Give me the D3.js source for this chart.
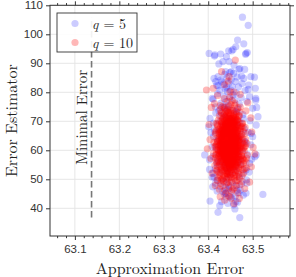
<!DOCTYPE html>
<html>
<head>
<meta charset="utf-8">
<script src="https://cdn.jsdelivr.net/npm/d3@7/dist/d3.min.js"></script>
<style>
  body { margin: 0; background: #fff; }
  svg { display: block; }
</style>
</head>
<body>
<script>
// tick labels / reference values
const xTicks = [63.1, 63.2, 63.3, 63.4, 63.5];
const yTicks = [40, 50, 60, 70, 80, 90, 100, 110];
const minimalError = 63.1375;
const labels = ["5", "10"];

// q = 5
const q5 = [
  [63.477,105.9],[63.490,103.1],[63.466,98.0],[63.480,96.7],[63.462,95.7],[63.488,93.7],[63.453,94.3],[63.446,94.3],
  [63.402,93.4],[63.415,92.9],[63.428,93.2],[63.441,92.3],[63.484,93.1],[63.433,90.6],[63.447,90.6],[63.424,89.8],
  [63.458,89.4],[63.469,87.9],[63.482,87.9],[63.452,87.1],[63.439,87.1],[63.496,85.4],[63.475,85.6],[63.422,85.4],
  [63.414,92.5],[63.456,94.8],[63.485,93.4],[63.471,88.2],[63.504,85.2],[63.417,83.7],[63.422,82.2],[63.441,81.7],
  [63.490,81.0],[63.493,78.5],[63.507,77.3],[63.411,77.6],[63.509,74.8],[63.512,71.6],[63.392,58.4],[63.505,57.8],
  [63.500,64.7],[63.416,48.6],[63.446,48.0],[63.404,42.5],[63.523,44.8],[63.426,40.9],[63.422,38.6],[63.471,36.8],
  [63.460,39.8],[63.485,45.2],[63.462,42.3],[63.444,41.7],[63.430,42.3],[63.449,44.0],
  [63.403,56.7],[63.411,52.1],[63.409,50.7],[63.508,58.4],[63.493,55.5],[63.486,49.8],[63.465,46.3],[63.439,45.2],
  [63.413,84.8],[63.428,84.2],[63.446,83.1],[63.461,83.7],[63.480,84.8],[63.491,82.5],[63.506,81.4],[63.507,77.9],
  [63.409,77.9],[63.416,75.0],[63.500,74.5],[63.404,71.0],[63.401,68.1],[63.508,68.7],
  [63.437,86.2],[63.452,84.4],[63.443,80.3],[63.456,79.1],[63.435,78.6],[63.468,81.9],[63.426,80.7],[63.449,86.8],
  [63.474,78.2],[63.431,83.6],[63.459,77.4],[63.440,76.8],[63.465,85.3],[63.421,79.5],[63.483,80.6],[63.448,78.0],
  [63.438,81.2],[63.454,82.0],[63.442,84.9],[63.463,79.8],[63.429,76.3],[63.470,76.0],[63.445,75.4],[63.457,86.5],
  [63.434,82.8],[63.476,83.0],[63.419,82.4],[63.451,80.8],[63.466,74.1],[63.436,74.7],[63.487,76.9],[63.424,73.6],
  [63.478,72.3],[63.494,70.2],[63.412,69.4],[63.497,65.8],
  [63.445,62.3],[63.432,57.6],[63.461,66.8],[63.418,60.9],[63.474,55.1],[63.450,70.7],[63.427,52.4],[63.466,59.3],
  [63.439,67.5],[63.483,62.8],[63.412,64.7],[63.455,48.9],[63.436,72.4],[63.471,69.6],[63.423,56.3],[63.448,54.0],
  [63.459,61.5],[63.430,64.9],[63.488,58.6],[63.441,50.1],[63.464,73.1],[63.416,53.7],[63.452,66.1],[63.478,51.9],
  [63.434,60.6],[63.447,58.1],[63.426,69.9],[63.469,63.4],[63.409,61.2],[63.457,56.7],[63.443,74.3],[63.481,67.4],
  [63.421,49.6],[63.462,52.8],[63.438,55.2],[63.453,63.9],[63.429,71.8],[63.473,57.4],[63.446,46.7],[63.414,67.0],
  [63.458,70.1],[63.437,62.0],[63.485,53.2],[63.425,59.0],[63.467,64.2],[63.450,51.5],[63.433,68.3],[63.476,60.3],
  [63.419,55.6],[63.444,65.8],[63.463,47.9],[63.431,54.8],[63.454,59.7],[63.490,66.2],[63.440,71.3],[63.470,50.6],
  [63.422,63.5],[63.449,56.4],[63.465,68.8],[63.435,49.2],[63.411,57.9],[63.479,71.0],[63.442,53.6],[63.456,65.0],
  [63.428,61.7],[63.472,46.3],[63.447,69.2],[63.417,72.9],[63.460,54.3],[63.436,58.9],[63.482,63.1],[63.451,60.8],
  [63.424,66.5],[63.468,56.0],[63.439,47.1],[63.458,73.7],[63.413,50.8],[63.475,65.5],[63.444,52.7],[63.430,74.8],
  [63.496,61.9],[63.406,66.1],[63.461,44.2],[63.433,45.8],[63.492,52.5],[63.410,47.4],[63.453,43.6],[63.475,48.4],
  [63.420,46.0],[63.487,48.7],[63.498,56.9],[63.403,53.4],[63.479,44.5],[63.440,43.9],[63.466,42.1],[63.427,47.6],
  [63.452,46.1],[63.469,45.3],[63.436,44.9],[63.457,41.2]
];

// q = 10
const q10 = [
  [63.438,74.2],[63.451,75.8],[63.446,72.9],[63.457,71.4],[63.432,70.6],[63.463,73.5],[63.444,76.9],[63.429,73.1],
  [63.455,70.2],[63.469,71.8],[63.441,71.0],[63.452,74.6],[63.436,77.8],[63.460,76.3],[63.448,70.9],[63.427,75.4],
  [63.472,74.9],[63.443,73.7],[63.458,72.2],[63.434,72.1],[63.466,70.5],[63.449,78.4],[63.439,70.1],[63.454,77.1],
  [63.425,71.9],
  [63.421,68.4],[63.447,67.2],[63.458,69.5],[63.433,65.8],[63.466,66.9],[63.452,65.3],[63.439,69.1],[63.474,68.2],
  [63.428,66.5],[63.445,69.8],[63.461,67.7],[63.418,69.3],[63.455,66.1],[63.437,67.9],[63.479,66.4],[63.450,68.6],
  [63.426,67.3],[63.468,69.9],[63.443,65.5],[63.459,68.9],[63.431,69.6],[63.463,65.7],[63.448,66.6],[63.435,68.3],
  [63.471,67.5],[63.416,66.2],[63.453,69.2],[63.441,66.8],[63.477,69.4],[63.424,65.9],[63.457,67.6],[63.446,68.1],
  [63.462,70.0],[63.430,67.0],[63.483,67.9],[63.440,65.2],[63.451,66.4],[63.467,68.5],[63.434,66.0],[63.456,65.6],
  [63.413,62.7],[63.445,63.1],[63.459,61.4],[63.432,64.6],[63.470,62.9],[63.451,60.5],[63.425,61.8],[63.438,63.9],
  [63.463,64.2],[63.482,61.2],[63.447,62.0],[63.419,64.0],[63.455,63.6],[63.441,60.8],[63.476,63.7],[63.429,62.3],
  [63.466,60.9],[63.450,64.8],[63.435,61.1],[63.458,62.6],[63.422,60.3],[63.487,62.4],[63.444,61.6],[63.472,64.9],
  [63.436,62.8],[63.453,61.9],[63.427,63.4],[63.461,63.0],[63.448,60.2],[63.417,61.5],[63.479,60.6],[63.442,64.4],
  [63.457,64.7],[63.431,60.7],[63.468,61.7],[63.449,63.5],[63.424,64.3],[63.464,62.1],[63.437,60.4],[63.454,60.1],
  [63.474,61.9],[63.433,63.2],[63.446,64.1],[63.460,60.6],[63.420,62.9],[63.484,63.8],[63.440,62.5],[63.452,62.8],
  [63.469,63.3],[63.428,60.9],
  [63.416,57.3],[63.443,58.6],[63.458,56.2],[63.431,59.4],[63.471,57.8],[63.450,55.4],[63.424,58.1],[63.439,56.7],
  [63.462,59.1],[63.481,56.5],[63.447,57.0],[63.419,55.9],[63.454,58.9],[63.436,55.2],[63.477,59.6],[63.428,57.6],
  [63.466,55.7],[63.449,59.8],[63.434,57.9],[63.459,57.5],[63.412,59.0],[63.488,58.3],[63.442,56.0],[63.473,55.1],
  [63.437,58.4],[63.455,56.6],[63.426,55.6],[63.463,57.2],[63.445,59.3],[63.421,56.9],[63.479,57.0],[63.440,55.8],
  [63.457,59.7],[63.430,56.3],[63.468,58.7],[63.451,57.7],[63.423,59.9],[63.465,56.0],[63.438,59.2],[63.453,55.0],
  [63.475,58.0],[63.432,58.8],[63.448,56.4],[63.461,55.3],[63.418,58.5],[63.485,55.9],[63.444,57.4],[63.456,58.1],
  [63.470,56.8],[63.427,59.5],
  [63.419,53.2],[63.446,54.1],[63.460,51.6],[63.433,52.8],[63.472,54.6],[63.452,50.7],[63.426,51.9],[63.440,53.7],
  [63.464,53.0],[63.480,52.2],[63.448,52.4],[63.415,54.8],[63.456,54.4],[63.437,50.9],[63.476,51.3],[63.430,54.2],
  [63.467,52.6],[63.450,53.5],[63.435,51.4],[63.459,50.3],[63.422,50.6],[63.486,53.9],[63.443,51.1],[63.470,50.2],
  [63.439,54.9],[63.454,52.1],[63.428,53.6],[63.462,54.9],[63.445,50.5],[63.424,52.4],[63.478,53.4],[63.441,52.0],
  [63.458,53.3],[63.431,50.1],[63.469,53.8],[63.449,51.5],[63.421,54.5],[63.465,51.0],[63.436,53.1],[63.453,54.7],
  [63.428,48.6],[63.447,47.3],[63.462,49.4],[63.437,46.2],[63.471,48.1],[63.452,45.8],[63.420,49.7],[63.443,49.0],
  [63.458,47.0],[63.432,47.7],[63.466,45.4],[63.449,48.9],[63.425,46.6],[63.477,49.2],[63.440,45.1],[63.455,46.5],
  [63.434,49.5],[63.463,47.8],[63.446,44.2],[63.416,47.9],[63.482,46.8],[63.451,43.5],
  [63.461,91.1],[63.430,87.1],[63.447,85.4],[63.396,80.8],[63.411,81.4],[63.437,82.6],[63.458,80.1],[63.421,78.9],
  [63.472,79.3],[63.445,83.9],[63.489,76.4],[63.407,74.8],[63.496,71.2],[63.402,68.9],[63.498,66.3],[63.404,63.7],
  [63.501,61.0],[63.406,57.2],[63.497,54.3],[63.409,52.1],[63.493,49.0],[63.437,42.8],[63.458,41.6],[63.427,44.0],
  [63.470,43.4],[63.505,58.8],[63.398,60.5],[63.485,73.6],[63.414,76.1],[63.449,80.2],
  [63.441,61.3],[63.452,63.8],[63.447,58.2],[63.436,66.4],[63.458,60.7],[63.444,69.1],[63.462,65.2],[63.431,62.6],
  [63.455,57.9],[63.449,67.3],[63.438,59.4],[63.467,62.0],[63.443,64.9],[63.428,68.2],[63.453,55.6],[63.460,70.3],
  [63.446,60.1],[63.433,57.0],[63.457,66.8],[63.450,61.9],[63.439,63.3],[63.464,58.5],[63.445,71.2],[63.430,64.1],
  [63.456,62.4],[63.448,56.3],[63.435,69.7],[63.461,67.9],[63.442,59.0],[63.470,64.5],[63.451,68.8],[63.427,60.0],
  [63.454,64.0],[63.440,57.5],[63.466,69.0],[63.447,65.7],[63.432,58.9],[63.459,63.5],[63.444,55.9],[63.437,71.7],
  [63.453,59.8],[63.426,65.0],[63.463,61.1],[63.449,70.6],[63.434,61.7],[63.458,55.4],[63.446,66.2],[63.441,62.2],
  [63.469,60.4],[63.452,57.1],[63.429,63.0],[63.456,68.4],[63.443,58.6],[63.438,65.5],[63.461,56.5],[63.450,64.6],
  [63.435,60.3],[63.465,66.6],[63.447,62.7],[63.431,67.1],[63.455,61.0],[63.442,69.4],[63.459,58.0],[63.436,56.8],
  [63.448,67.7],[63.462,63.9],[63.440,64.3],[63.453,70.9],[63.428,59.7],[63.467,57.7],[63.445,60.6],[63.457,65.1],
  [63.433,66.9],[63.450,58.3],[63.464,68.1],[63.439,62.9],[63.454,56.1],[63.446,63.6],[63.430,61.5],[63.460,59.3],
  [63.444,66.0],[63.437,63.7],[63.452,61.6],[63.458,64.8],[63.441,57.6],[63.449,59.1],[63.434,64.7],[63.463,62.5],
  [63.447,69.6],[63.455,60.2],[63.432,65.3],[63.466,63.2],[63.443,55.3],[63.451,66.3],[63.438,68.0],[63.460,61.8],
  [63.445,58.8],[63.456,71.5],[63.436,62.1],[63.448,64.2],
  [63.418,60.2],[63.478,64.1],[63.423,70.4],[63.473,56.7],[63.420,52.9],[63.481,59.8],[63.427,74.0],[63.469,51.8],
  [63.416,65.6],[63.484,61.6],[63.425,55.0],[63.476,69.2],[63.421,63.1],[63.471,73.2],[63.429,49.8],[63.468,54.0],
  [63.417,58.4],[63.483,65.9],[63.431,72.8],[63.474,60.9],[63.422,67.2],[63.479,55.5],[63.426,51.2],[63.472,66.7],
  [63.419,62.0],[63.486,57.3],[63.433,75.1],[63.465,49.6],[63.424,57.8],[63.477,62.6],[63.428,64.4],[63.470,71.9],
  [63.415,61.2],[63.482,53.6],[63.430,53.3],[63.467,74.6],[63.420,69.0],[63.475,58.2],[63.434,50.4],[63.463,72.4],
  [63.439,52.5],[63.457,53.9],[63.444,51.7],[63.452,49.3],[63.448,54.5],[63.437,74.7],[63.455,73.8],[63.442,72.6],
  [63.460,75.6],[63.446,75.0],[63.435,54.6],[63.461,52.3],[63.450,50.8],[63.441,48.7],[63.458,51.4],[63.443,53.0],
  [63.453,71.1],[63.440,73.4],[63.462,71.6],[63.449,73.0],[63.425,63.8],[63.474,67.8],[63.418,66.8],[63.480,62.2],
  [63.427,58.6],[63.471,59.6],[63.423,61.4],[63.477,57.1],[63.421,56.1],[63.478,68.3],[63.429,70.0],[63.469,64.7],
  [63.426,66.1],[63.473,61.4],[63.424,59.1],[63.475,65.4],[63.428,56.2],[63.466,55.9],[63.432,68.6],[63.464,59.9],
  [63.436,58.3],[63.459,66.5],[63.445,56.9],[63.451,65.0],[63.433,62.4],[63.462,60.0],[63.440,67.0],[63.454,62.9],
  [63.447,61.1],[63.438,60.8],[63.456,59.5],[63.443,63.4],[63.450,69.9],[63.435,65.9],[63.461,64.4],[63.449,57.2],
  [63.442,65.1],[63.457,62.3],[63.431,60.1],[63.465,65.0],
  [63.444,63.0],[63.451,59.5],[63.438,61.9],[63.456,66.0],[63.447,68.4],[63.433,60.5],[63.460,62.7],[63.442,56.6],
  [63.453,65.4],[63.436,64.0],[63.458,57.3],[63.445,70.0],[63.431,66.3],[63.463,60.3],[63.449,62.5],[63.440,58.1],
  [63.455,71.0],[63.435,63.1],[63.461,68.9],[63.446,54.8],[63.452,67.0],[63.439,69.3],[63.464,64.3],[63.443,60.0],
  [63.457,59.0],[63.432,62.0],[63.448,65.9],[63.459,55.7],[63.437,57.4],[63.450,72.3],[63.441,66.7],[63.466,61.3],
  [63.454,58.4],[63.434,68.7],[63.447,56.0],[63.462,66.3],[63.444,64.6],[63.429,58.2],[63.456,63.2],[63.449,60.9],
  [63.438,71.4],[63.453,53.5],[63.465,70.4],[63.442,67.6],[63.436,59.9],[63.459,61.6],[63.446,57.8],[63.430,65.6],
  [63.451,69.5],[63.460,64.0],[63.443,62.1],[63.455,54.3],[63.437,66.0],[63.448,59.6],[63.463,57.0],[63.440,61.0],
  [63.452,64.3],[63.433,55.9],[63.457,69.7],[63.445,73.1],[63.450,56.9],[63.439,60.2],[63.461,62.9],[63.447,64.9],
  [63.435,67.4],[63.454,61.5],[63.442,63.8],[63.458,67.3],[63.444,58.9],[63.453,62.2],[63.431,63.9],[63.466,59.4],
  [63.449,66.8],[63.437,54.4],[63.456,56.3],[63.441,70.5],[63.462,58.7],[63.446,61.7],[63.434,58.5],[63.451,70.3],
  [63.459,63.7],[63.443,65.3],[63.448,53.9],[63.440,68.9],[63.454,67.9],[63.436,61.4],[63.464,66.0],[63.445,62.4],
  [63.452,58.0],[63.438,64.8],
  [63.440,59.8],[63.455,64.6],[63.446,67.8],[63.434,62.9],[63.461,57.8],[63.449,55.1],[63.437,70.2],[63.452,60.4],
  [63.466,65.8],[63.443,61.5],[63.429,64.9],[63.458,68.6],[63.445,52.6],[63.470,60.8],[63.438,57.2],[63.451,73.6],
  [63.463,55.0],[63.441,65.6],[63.432,67.7],[63.454,59.2],[63.447,63.3],[63.460,71.3],[63.436,53.9],[63.468,58.1],
  [63.444,68.2],[63.427,61.8],[63.457,62.1],[63.450,54.2],[63.439,66.1],[63.462,61.2],[63.448,70.8],[63.433,59.6],
  [63.456,57.5],[63.442,62.6],[63.465,63.6],[63.453,66.6],[63.435,56.0],[63.459,60.0],[63.446,58.5],[63.430,69.2],
  [63.451,62.0],[63.467,67.5],[63.440,54.0],[63.457,72.7],[63.444,60.3],[63.436,65.2],[63.462,59.0],[63.449,64.4],
  [63.431,57.1],[63.455,69.0],[63.443,56.1],[63.469,62.8],[63.438,63.5],[63.452,53.1],[63.460,66.9],[63.447,71.9],
  [63.434,60.9],[63.457,58.8],[63.441,68.5],[63.464,56.8],[63.450,63.0],[63.428,62.5],[63.454,55.8],[63.445,65.0],
  [63.437,58.0],[63.461,69.6],[63.448,61.4],[63.433,71.0],[63.456,64.1],[63.442,52.0],[63.466,60.1],[63.439,64.5],
  [63.452,68.0],[63.444,57.0],[63.458,61.7],[63.435,66.7],[63.463,54.5],[63.447,59.9],[63.430,59.0],[63.453,63.0],
  [63.441,72.0],[63.459,65.5],[63.446,55.5],[63.437,61.6],[63.464,70.7],[63.449,58.4],[63.432,64.3],[63.455,62.6],
  [63.443,67.1],[63.468,64.0]
];

const series = [
  {name: labels[0], pts: q5, color: "#0000ff", alpha: 0.2},
  {name: labels[1], pts: q10, color: "#ff0000", alpha: 0.28}
];

const W = 296, H = 277;
const box = {l: 50, t: 5.3, r: 290, b: 236};
const serif = "'Latin Modern Roman','CMU Serif','Liberation Serif',serif";
const sans = "'Liberation Sans',Arial,sans-serif";

const x = d3.scaleLinear().domain([63.044, 63.584]).range([box.l, box.r]);
const y = d3.scaleLinear().domain([30.45, 110]).range([box.b, box.t]);

const svg = d3.select("body").append("svg")
    .attr("width", W)
    .attr("height", H);

// grid
svg.append("g").selectAll("line").data(xTicks).join("line")
    .attr("x1", d => x(d)).attr("x2", d => x(d))
    .attr("y1", box.t).attr("y2", box.b)
    .attr("stroke", "#e3e3e3").attr("stroke-width", 0.9);
svg.append("g").selectAll("line").data(yTicks).join("line")
    .attr("x1", box.l).attr("x2", box.r)
    .attr("y1", d => y(d)).attr("y2", d => y(d))
    .attr("stroke", "#e3e3e3").attr("stroke-width", 0.9);

// minimal error marker, spans the estimator range
const allY = q5.concat(q10).map(d => d[1]);
const yLo = d3.min(allY), yHi = d3.max(allY);
svg.append("line")
    .attr("x1", x(minimalError)).attr("x2", x(minimalError))
    .attr("y1", y(yLo)).attr("y2", y(yHi))
    .attr("stroke", "#777").attr("stroke-width", 1.6)
    .attr("stroke-dasharray", "6.5,3.5");
svg.append("text")
    .attr("transform", `translate(${x(minimalError) - 5},${y((yLo + yHi) / 2)}) rotate(-90)`)
    .attr("text-anchor", "middle")
    .attr("font-family", serif).attr("font-size", 15)
    .attr("fill", "#222")
    .text("Minimal Error");

// points
series.forEach(s => {
    svg.append("g").selectAll("circle").data(s.pts).join("circle")
        .attr("cx", d => x(d[0]))
        .attr("cy", d => y(d[1]))
        .attr("r", 3.6)
        .attr("fill", s.color)
        .attr("fill-opacity", s.alpha);
});

// axes
const minorX = d3.range(63.06, 63.59, 0.02).filter(v => !xTicks.some(t => Math.abs(t - v) < 1e-6));
function styleAxis(g) {
    g.select(".domain").remove();
    g.selectAll(".tick line").attr("stroke", "#333");
    g.selectAll(".tick text").attr("font-family", sans).attr("font-size", 11.5).attr("fill", "#333");
}
function noLabels(g) {
    g.selectAll(".tick text").remove();
}
svg.append("g").attr("transform", `translate(0,${box.b})`)
    .call(d3.axisBottom(x).tickValues(xTicks).tickSize(4).tickPadding(5).tickFormat(d3.format(".1f")))
    .call(styleAxis);
svg.append("g").attr("transform", `translate(0,${box.b})`)
    .call(d3.axisBottom(x).tickValues(minorX).tickSize(2.2))
    .call(styleAxis).call(noLabels);
svg.append("g").attr("transform", `translate(0,${box.t})`)
    .call(d3.axisTop(x).tickValues(xTicks).tickSize(4))
    .call(styleAxis).call(noLabels);
svg.append("g").attr("transform", `translate(0,${box.t})`)
    .call(d3.axisTop(x).tickValues(minorX).tickSize(2.2))
    .call(styleAxis).call(noLabels);
svg.append("g").attr("transform", `translate(${box.l},0)`)
    .call(d3.axisLeft(y).tickValues(yTicks).tickSize(4).tickPadding(3))
    .call(styleAxis);
svg.append("g").attr("transform", `translate(${box.r},0)`)
    .call(d3.axisRight(y).tickValues(yTicks).tickSize(4))
    .call(styleAxis).call(noLabels);

svg.append("rect")
    .attr("x", box.l).attr("y", box.t)
    .attr("width", box.r - box.l).attr("height", box.b - box.t)
    .attr("fill", "none").attr("stroke", "#333").attr("stroke-width", 1);

// axis titles
svg.append("text")
    .attr("x", (box.l + box.r) / 2).attr("y", 273.5)
    .attr("text-anchor", "middle")
    .attr("font-family", serif).attr("font-size", 16).attr("fill", "#222")
    .text("Approximation Error");
svg.append("text")
    .attr("transform", `translate(17,${(box.t + box.b) / 2}) rotate(-90)`)
    .attr("text-anchor", "middle")
    .attr("font-family", serif).attr("font-size", 16).attr("fill", "#222")
    .text("Error Estimator");

// legend
const leg = svg.append("g").attr("transform", "translate(57,13)");
leg.append("rect")
    .attr("width", 80).attr("height", 39)
    .attr("fill", "#fff").attr("fill-opacity", 0.9)
    .attr("stroke", "#333").attr("stroke-width", 0.9);
series.forEach((s, i) => {
    const row = leg.append("g").attr("transform", `translate(0,${10.5 + i * 19})`);
    row.append("circle").attr("cx", 18).attr("cy", 0).attr("r", 3.6)
        .attr("fill", s.color).attr("fill-opacity", s.alpha);
    const t = row.append("text").attr("x", 35).attr("y", 5)
        .attr("font-family", serif).attr("font-size", 14).attr("fill", "#222");
    t.append("tspan").attr("font-style", "italic").text("q");
    t.append("tspan").attr("dx", 5).text("= " + s.name);
});
</script>
</body>
</html>
